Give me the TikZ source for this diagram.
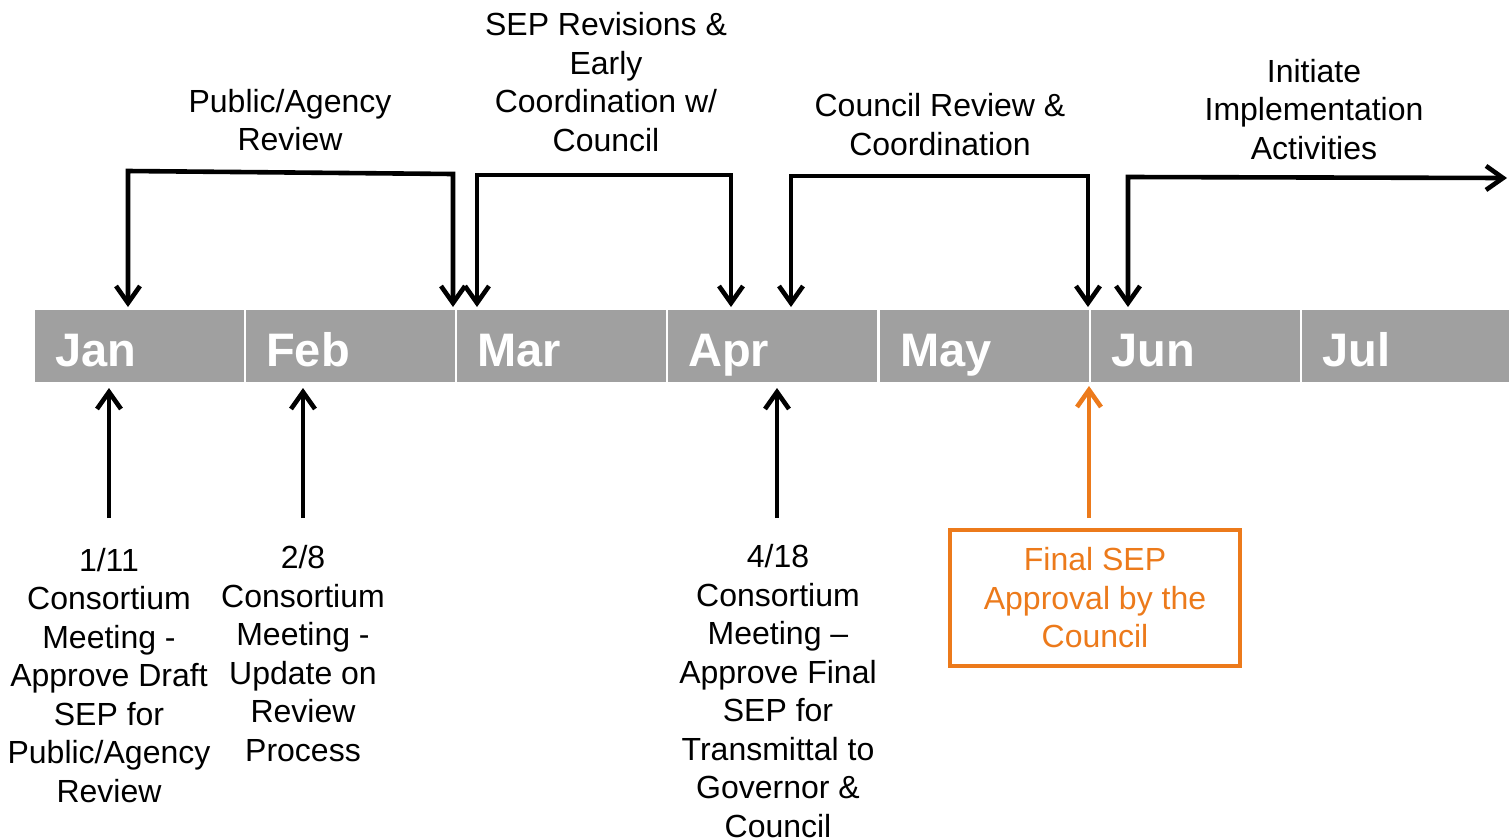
\documentclass[tikz,border=0pt]{standalone}
\usepackage{fontspec}
\setmainfont{Liberation Sans}
\usetikzlibrary{arrows.meta,calc}
\definecolor{bargray}{RGB}{160,160,160}
\definecolor{accorange}{RGB}{236,122,27}
\begin{document}
\begin{tikzpicture}[x=1pt,y=-1pt,
  month/.style={fill=bargray, draw=none, minimum width=209pt, minimum height=72pt, inner sep=0pt, anchor=north west},
  mlabel/.style={text=white, font=\fontsize{47}{50}\selectfont\bfseries, anchor=base west, inner sep=0pt},
  txt/.style={align=center, font=\fontsize{32}{38.5}\selectfont, inner sep=0pt},
  conn/.style={line width=4.6pt, -{Straight Barb[length=17pt,width=24pt]}},
  both/.style={line width=4.6pt, {Straight Barb[length=17pt,width=24pt]}-{Straight Barb[length=17pt,width=24pt]}},
  finbox/.style={draw=accorange, line width=4pt, text=accorange, minimum width=290pt, minimum height=136pt, align=center, font=\fontsize{32}{38.5}\selectfont, inner sep=0pt}
  ]
\useasboundingbox (0,0) rectangle (1509,839);
% month bar
\node[month] (jan) at (35,310) {};
\node[month] (feb) at (246,310) {};
\node[month] (mar) at (457,310) {};
\node[month] (apr) at (668,310) {};
\node[month] (may) at (880,310) {};
\node[month] (jun) at (1091,310) {};
\node[month] (jul) at (1302,310) {};
\node[mlabel] (janl) at (55,366) {Jan};
\node[mlabel] (febl) at (266,366) {Feb};
\node[mlabel] (marl) at (477,366) {Mar};
\node[mlabel] (aprl) at (688,366) {Apr};
\node[mlabel] (mayl) at (900,366) {May};
\node[mlabel] (junl) at (1111,366) {Jun};
\node[mlabel] (jull) at (1322,366) {Jul};
% top labels
\node[txt] (pa) at (290,120) {Public/Agency\\Review};
\node[txt] (sr) at (606,82) {SEP Revisions \&\\Early\\Coordination w/\\Council};
\node[txt] (cr) at (940,124.5) {Council Review \&\\Coordination};
\node[txt] (ii) at (1314,109.5) {Initiate\\Implementation\\Activities};
% top brackets
\coordinate (p1) at (128,307); \coordinate (p2) at (128,171); \coordinate (p3) at (453,174); \coordinate (p4) at (453,307);
\draw[both] (p1) -- (p2) -- (p3) -- (p4);
\coordinate (s1) at (477,307); \coordinate (s2) at (477,175); \coordinate (s3) at (731,175); \coordinate (s4) at (731,307);
\draw[both] (s1) -- (s2) -- (s3) -- (s4);
\coordinate (c1) at (791,307); \coordinate (c2) at (791,176); \coordinate (c3) at (1088,176); \coordinate (c4) at (1088,307);
\draw[both] (c1) -- (c2) -- (c3) -- (c4);
\coordinate (i1) at (1128,307); \coordinate (i2) at (1128,177); \coordinate (i3) at (1507,178);
\draw[both] (i1) -- (i2) -- (i3);
% bottom labels
\node[txt] (m1) at (109,675.5) {1/11\\Consortium\\Meeting -\\Approve Draft\\SEP for\\Public/Agency\\Review};
\node[txt] (m2) at (303,653.5) {2/8\\Consortium\\Meeting -\\Update on\\Review\\Process};
\node[txt] (m3) at (778,691) {4/18\\Consortium\\Meeting --\\Approve Final\\SEP for\\Transmittal to\\Governor \&\\Council};
\node[finbox] (fin) at (1095,598) {Final SEP\\Approval by the\\Council};
% bottom arrows
\coordinate (b1) at (109,518); \coordinate (b1t) at (109,388);
\coordinate (b2) at (303,518); \coordinate (b2t) at (303,388);
\coordinate (b3) at (777,518); \coordinate (b3t) at (777,388);
\coordinate (b4) at (1089,518); \coordinate (b4t) at (1089,386);
\draw[conn] (b1) -- (b1t);
\draw[conn] (b2) -- (b2t);
\draw[conn] (b3) -- (b3t);
\draw[conn, accorange] (b4) -- (b4t);
\end{tikzpicture}
\end{document}
